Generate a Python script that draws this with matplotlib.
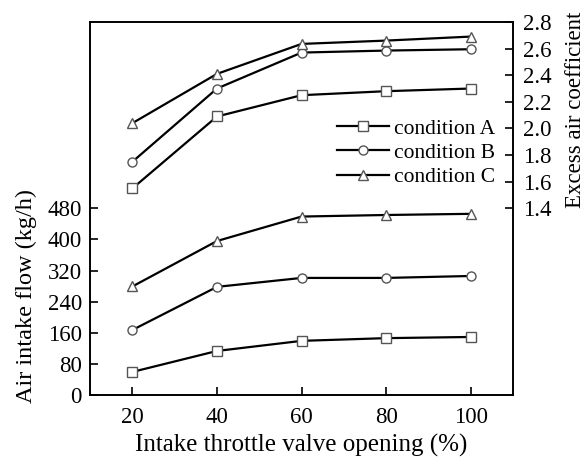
import matplotlib.pyplot as plt

plt.rcParams['font.family'] = ['Liberation Serif', 'DejaVu Serif']
plt.rcParams['font.size'] = 16.5

# throttle opening (%)
opening = [20, 40, 60, 80, 100]

# air intake flow (kg/h), left axis
flow_a = [59, 113, 139, 146, 149]
flow_b = [167, 278, 301, 301, 306]
flow_c = [279, 396, 459, 463, 466]

# excess air coefficient, right axis
lam_a = [1.55, 2.09, 2.25, 2.28, 2.30]
lam_b = [1.75, 2.30, 2.57, 2.585, 2.595]
lam_c = [2.04, 2.41, 2.635, 2.66, 2.69]

labels = ['condition A', 'condition B', 'condition C']
markers = ['s', 'o', '^']

fig, ax = plt.subplots(figsize=(5.85, 4.57), dpi=100)
fig.subplots_adjust(left=0.154, right=0.877, top=0.952, bottom=0.136)
ax2 = ax.twinx()

style = dict(color='black', lw=1.6, ms=6.5, mfc='white', mec='#555555', mew=1.0)

for y, m in zip([flow_a, flow_b, flow_c], markers):
    ax.plot(opening, y, marker=m, **style)

handles = []
for y, m in zip([lam_a, lam_b, lam_c], markers):
    h, = ax2.plot(opening, y, marker=m, **style)
    handles.append(h)

ax.set_xlim(10, 110)
ax.set_ylim(0, 960)
ax.set_xticks(opening)
ax.set_yticks(range(0, 481, 80))
ax2.set_ylim(0, 2.8)
ax2.set_yticks([1.4, 1.6, 1.8, 2.0, 2.2, 2.4, 2.6, 2.8])
ax2.set_yticklabels(['1.4', '1.6', '1.8', '2.0', '2.2', '2.4', '2.6', '2.8'])

ax.tick_params(axis='x', direction='in', length=6, width=1.2, top=False, pad=9)
ax.tick_params(axis='y', direction='in', length=6, width=1.2, pad=6)
ax2.tick_params(axis='y', direction='in', length=6, width=1.2, pad=7)
for a in (ax, ax2):
    for s in a.spines.values():
        s.set_linewidth(1.2)

ax.set_xlabel('Intake throttle valve opening (%)', fontsize=18, labelpad=4)
ax.set_ylabel('Air intake flow (kg/h)', fontsize=17.5)
ax.yaxis.set_label_coords(-0.125, 0.265)
fig.text(0.983, 1 - 208 / 457, 'Excess air coefficient', rotation=90,
         ha='center', va='bottom', fontsize=16.5)

ax2.legend(handles, labels, loc='upper left', bbox_to_anchor=(0.559, 0.77),
           frameon=False, borderpad=0, handlelength=2.4, handletextpad=0.25,
           labelspacing=0.2, fontsize=15.5)

fig.savefig('out.png', dpi=100)
